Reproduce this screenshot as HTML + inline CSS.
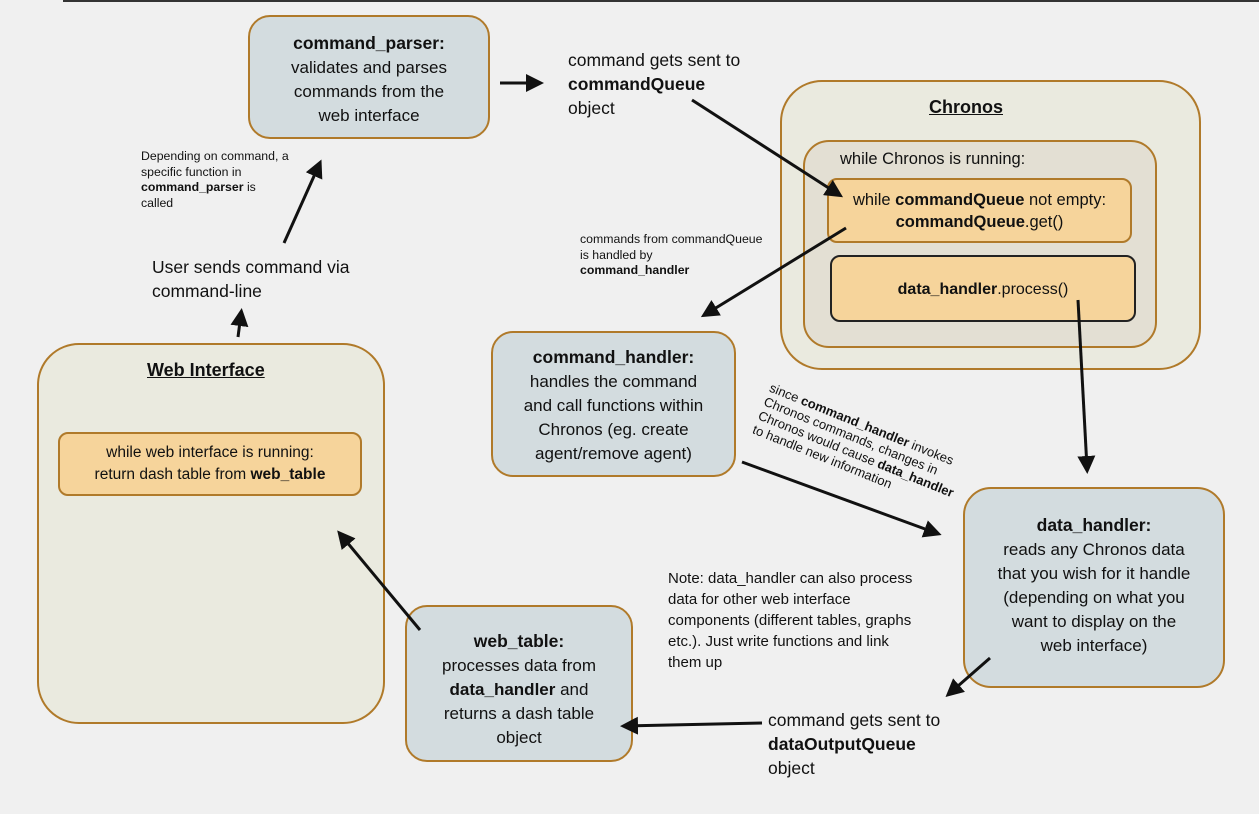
<!DOCTYPE html>
<html><head><meta charset="utf-8"><style>
body{margin:0;width:1259px;height:814px;background:#f0f0f0;position:relative;overflow:hidden;font-family:"Liberation Sans",sans-serif;color:#111}
.b{position:absolute;box-sizing:border-box;border:2px solid #b07a2a;text-align:center}
.t{position:absolute;white-space:nowrap}
b{font-weight:bold}
</style></head><body>
<div style="position:absolute;left:63px;top:0;width:1196px;height:2px;background:#333"></div>

<div class="b" style="left:248px;top:15px;width:242px;height:124px;border-radius:22px;background:#d3dcdf;font-size:17px;line-height:24px;padding-top:14px"><b style="font-size:17.5px">command_parser:</b><br>validates and parses<br>commands from the<br>web interface</div>

<div class="t" style="left:568px;top:48px;font-size:17.5px;line-height:24px">command gets sent to<br><b>commandQueue</b><br>object</div>

<div class="b" style="left:780px;top:80px;width:421px;height:290px;border-radius:42px;background:#eaeadf"></div>
<div class="t" style="left:929px;top:97px;font-size:18px;font-weight:bold;text-decoration:underline">Chronos</div>
<div class="b" style="left:803px;top:140px;width:354px;height:208px;border-radius:26px;background:#e3dfd3"></div>
<div class="t" style="left:840px;top:150px;font-size:16.5px">while Chronos is running:</div>
<div class="b" style="left:827px;top:178px;width:305px;height:65px;border-radius:10px;background:#f6d49b;font-size:16.5px;line-height:22px;padding-top:9px">while <b>commandQueue</b> not empty:<br><b>commandQueue</b>.get()</div>
<div class="b" style="left:830px;top:255px;width:306px;height:67px;border-radius:10px;background:#f6d49b;border-color:#222;font-size:16px;line-height:22px;padding-top:22px"><b>data_handler</b>.process()</div>

<div class="b" style="left:37px;top:343px;width:348px;height:381px;border-radius:42px;background:#eaeadf"></div>
<div class="t" style="left:147px;top:360px;font-size:18px;font-weight:bold;text-decoration:underline">Web Interface</div>
<div class="b" style="left:58px;top:432px;width:304px;height:64px;border-radius:10px;background:#f6d49b;font-size:15.5px;line-height:22px;padding-top:8px">while web interface is running:<br>return dash table from <b>web_table</b></div>

<div class="t" style="left:141px;top:149px;font-size:12.3px;line-height:15.5px">Depending on command, a<br>specific function in<br><b>command_parser</b> is<br>called</div>
<div class="t" style="left:152px;top:255px;font-size:17.5px;line-height:24px">User sends command via<br>command-line</div>
<div class="t" style="left:580px;top:232px;font-size:12.3px;line-height:15.5px">commands from commandQueue<br>is handled by<br><b>command_handler</b></div>

<div class="b" style="left:491px;top:331px;width:245px;height:146px;border-radius:22px;background:#d3dcdf;font-size:17px;line-height:24px;padding-top:12px"><b style="font-size:17.5px">command_handler:</b><br>handles the command<br>and call functions within<br>Chronos (eg. create<br>agent/remove agent)</div>

<div class="t" style="left:773px;top:380px;font-size:13px;line-height:15px;transform:rotate(22deg);transform-origin:0 0">since <b>command_handler</b> invokes<br>Chronos commands, changes in<br>Chronos would cause <b>data_handler</b><br>to handle new information</div>

<div class="b" style="left:963px;top:487px;width:262px;height:201px;border-radius:28px;background:#d3dcdf;font-size:17px;line-height:24px;padding-top:24px"><b style="font-size:17.5px">data_handler:</b><br>reads any Chronos data<br>that you wish for it handle<br>(depending on what you<br>want to display on the<br>web interface)</div>

<div class="t" style="left:668px;top:568px;font-size:15px;line-height:21px">Note: data_handler can also process<br>data for other web interface<br>components (different tables, graphs<br>etc.). Just write functions and link<br>them up</div>

<div class="b" style="left:405px;top:605px;width:228px;height:157px;border-radius:22px;background:#d3dcdf;font-size:17px;line-height:24px;padding-top:22px"><b style="font-size:17.5px">web_table:</b><br>processes data from<br><b>data_handler</b> and<br>returns a dash table<br>object</div>

<div class="t" style="left:768px;top:708px;font-size:17.5px;line-height:24px">command gets sent to<br><b>dataOutputQueue</b><br>object</div>

<svg width="1259" height="814" style="position:absolute;left:0;top:0">
<defs><marker id="a" markerWidth="6" markerHeight="6" refX="4" refY="3" orient="auto" markerUnits="strokeWidth"><path d="M0,0L6,3L0,6z" fill="#111"/></marker></defs>
<g stroke="#111" stroke-width="3" marker-end="url(#a)">
<line x1="500" y1="83" x2="538" y2="83"/>
<line x1="692" y1="100" x2="838" y2="194"/>
<line x1="284" y1="243" x2="319" y2="165"/>
<line x1="238" y1="337" x2="241" y2="314"/>
<line x1="846" y1="228" x2="706" y2="314"/>
<line x1="1078" y1="300" x2="1087" y2="468"/>
<line x1="990" y1="658" x2="950" y2="693"/>
<line x1="762" y1="723" x2="626" y2="726"/>
<line x1="420" y1="630" x2="341" y2="535"/>
<line x1="742" y1="462" x2="936" y2="533"/>
</g></svg>
</body></html>
